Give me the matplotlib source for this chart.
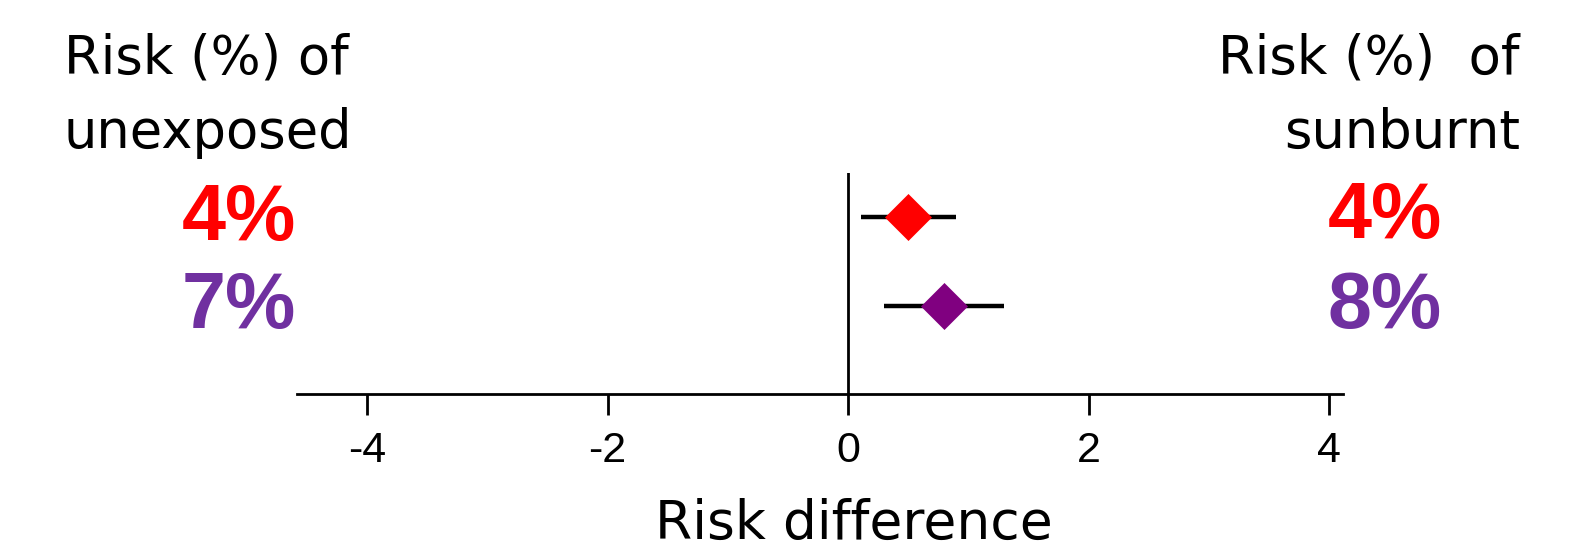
import matplotlib
matplotlib.use("Agg")
import matplotlib.pyplot as plt

# ---- data ----
risk_diff = [0.50, 0.80]
ci_low = [0.11, 0.30]
ci_high = [0.90, 1.30]
row_pos = [2, 1]
unexposed_pct = ["4%", "7%"]
sunburnt_pct = ["4%", "8%"]
marker_colors = ["#FF0000", "#800080"]
text_colors = ["#FF0000", "#7030A0"]
xticks = [-4, -2, 0, 2, 4]
xtick_labels = ["-4", "-2", "0", "2", "4"]
left_header = ["Risk (%) of", "unexposed"]
right_header = ["Risk (%)  of", "sunburnt"]
xlabel = "Risk difference"

W, H = 1578, 551
fig = plt.figure(figsize=(W / 100, H / 100), dpi=100)

def fx(px):
    return px / W

def fy(py):
    return 1 - py / H

ax_left, ax_right, ax_top, ax_bot = 297, 1343, 173, 394
ax = fig.add_axes([fx(ax_left), fy(ax_bot), (ax_right - ax_left) / W, (ax_bot - ax_top) / H])
ax.set_xlim(-4.582, 4.116)
ax.set_ylim(0.011, 2.494)

for s in ["top", "right", "left"]:
    ax.spines[s].set_visible(False)
ax.spines["bottom"].set_linewidth(2.0)
ax.axvline(0, color="black", lw=2.0, zorder=1)

for x, lo, hi, y, c in zip(risk_diff, ci_low, ci_high, row_pos, marker_colors):
    ax.plot([lo, hi], [y, y], color="black", lw=3.2, solid_capstyle="butt", zorder=2)
    ax.plot([x], [y], marker="D", ms=23, color=c, mec=c, mew=0.5, zorder=3)

ax.set_yticks([])
ax.set_xticks(xticks)
ax.set_xticklabels(xtick_labels, fontfamily="Liberation Sans", fontsize=31)
ax.tick_params(axis="x", direction="out", length=15, width=2, pad=12)

hsize = 38
ax.set_xlabel(xlabel, fontfamily="DejaVu Sans", fontsize=hsize + 0.5)
ax.xaxis.set_label_coords((854 - ax_left) / (ax_right - ax_left), -(539 - ax_bot) / (ax_bot - ax_top))
ax.xaxis.label.set_va("baseline")

hfont = dict(fontfamily="DejaVu Sans", fontsize=hsize, color="black", va="baseline")
fig.text(fx(64), fy(74), left_header[0], ha="left", **hfont)
fig.text(fx(64), fy(148), left_header[1], ha="left", **hfont)
fig.text(fx(1520), fy(74), right_header[0], ha="right", **hfont)
fig.text(fx(1520), fy(148), right_header[1], ha="right", **hfont)

pfont = dict(fontfamily="Liberation Sans", fontsize=57, fontweight="bold", va="baseline", ha="right")
for t, c, yb in zip(unexposed_pct, text_colors, [240, 328]):
    fig.text(fx(296), fy(yb), t, color=c, **pfont)
for t, c, yb in zip(sunburnt_pct, text_colors, [238, 328]):
    fig.text(fx(1442), fy(yb), t, color=c, **pfont)

fig.savefig("out.png", dpi=100, facecolor="white")
